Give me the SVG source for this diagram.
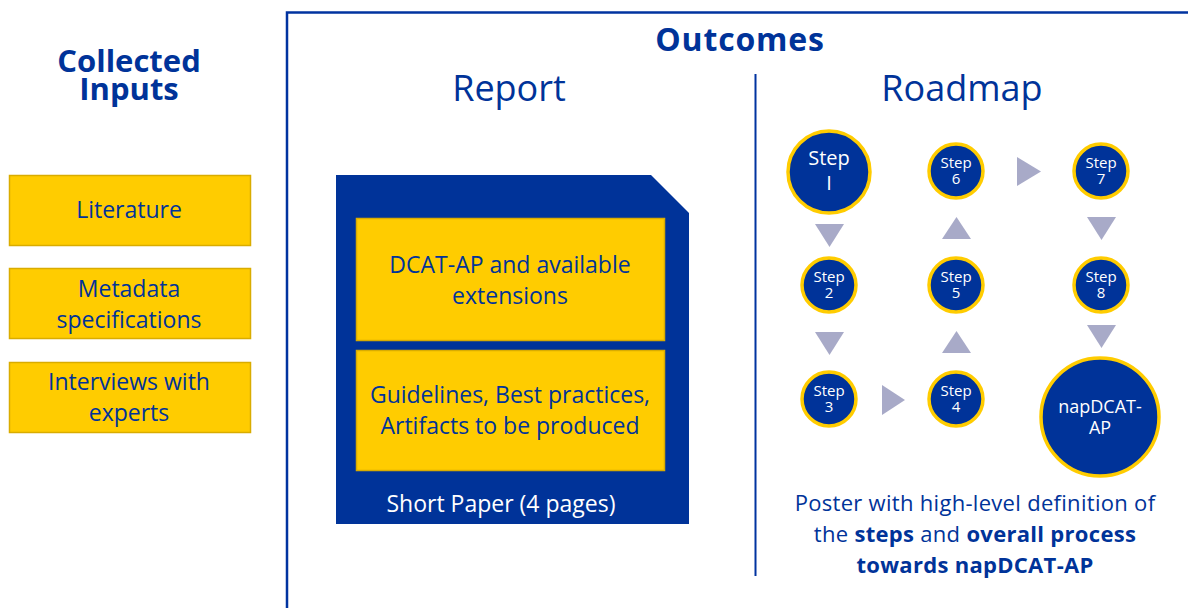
<svg xmlns="http://www.w3.org/2000/svg" width="1188" height="608" viewBox="0 0 1188 608">
  <style>
    text { font-family: "Open Sans", Lato, "Liberation Sans", sans-serif; fill: #003399; text-anchor: middle; }
    .title { font-weight: bold; font-size: 31px; }
    .outTitle { font-weight: bold; font-size: 32px; letter-spacing: 0.8px; }
    .head { font-size: 36px; }
    .input { fill: #ffcc00; stroke: #d9ac00; stroke-width: 1.5; }
    .inputText { font-size: 23px; }
    .panelText { font-size: 23px; }
    .white { fill: #ffffff; }
    .step { fill: #003399; stroke: #ffcc00; stroke-width: 3.5; }
    .stepText { fill: #ffffff; font-size: 15px; }
    .arrow { fill: #a8aac8; }
    .poster { font-size: 22px; letter-spacing: 0.3px; }
    .b { font-weight: bold; }
  </style>

  <!-- Left column: collected inputs -->
  <g id="inputs-title">
    <text class="title" x="129" y="72">Collected<tspan x="129" dy="28">Inputs</tspan></text>
  </g>
  <g id="input-literature">
    <rect class="input" x="9.5" y="175.5" width="241" height="70"/>
    <text class="inputText" x="129" y="218">Literature</text>
  </g>
  <g id="input-metadata">
    <rect class="input" x="9.5" y="268.5" width="241" height="70"/>
    <text class="inputText" x="129" y="297">Metadata<tspan x="129" dy="31">specifications</tspan></text>
  </g>
  <g id="input-interviews">
    <rect class="input" x="9.5" y="362.5" width="241" height="70"/>
    <text class="inputText" x="129" y="390">Interviews with<tspan x="129" dy="31">experts</tspan></text>
  </g>

  <!-- Outcomes frame -->
  <g id="outcomes">
    <path d="M287,610 V12.5 H1192" fill="none" stroke="#0033a0" stroke-width="2.5"/>
    <text class="outTitle" x="740" y="51">Outcomes</text>
    <line x1="755.5" y1="74" x2="755.5" y2="576" stroke="#0033a0" stroke-width="2"/>
  </g>

  <!-- Report: short paper with two content blocks -->
  <g id="report">
    <text class="head" x="509" y="101">Report</text>
    <path d="M336,175 H651 L689,213 V524 H336 Z" fill="#003399"/>
    <rect class="input" x="356.5" y="218.5" width="308" height="122"/>
    <text class="panelText" x="510" y="273">DCAT-AP and available<tspan x="510" dy="31">extensions</tspan></text>
    <rect class="input" x="356.5" y="350.5" width="308" height="120"/>
    <text class="panelText" x="510" y="403">Guidelines, Best practices,<tspan x="510" dy="31">Artifacts to be produced</tspan></text>
    <text class="white" x="501" y="512" style="font-size:23px">Short Paper (4 pages)</text>
  </g>

  <!-- Roadmap -->
  <text id="roadmap-title" class="head" x="962" y="101">Roadmap</text>

  <g id="connectors">
    <polygon class="arrow" points="815,224 844,224 829.5,247"/>
    <polygon class="arrow" points="815,332 844,332 829.5,355"/>
    <polygon class="arrow" points="882,385 905,400 882,415"/>
    <polygon class="arrow" points="942,353 971,353 956.5,331"/>
    <polygon class="arrow" points="942,239 971,239 956.5,217"/>
    <polygon class="arrow" points="1017,157 1041,171.5 1017,186"/>
    <polygon class="arrow" points="1087,217 1116,217 1101.5,240"/>
    <polygon class="arrow" points="1087,325 1116,325 1101.5,348"/>
  </g>

  <g id="step1">
    <circle class="step" cx="829" cy="172" r="41"/>
    <text class="stepText" x="829" y="165" style="font-size:20px">Step<tspan x="829" dy="25">I</tspan></text>
  </g>
  <g id="step2">
    <circle class="step" cx="829" cy="285" r="27"/>
    <text class="stepText" x="829" y="282">Step<tspan x="829" dy="16">2</tspan></text>
  </g>
  <g id="step3">
    <circle class="step" cx="829" cy="399" r="27"/>
    <text class="stepText" x="829" y="396">Step<tspan x="829" dy="16">3</tspan></text>
  </g>
  <g id="step4">
    <circle class="step" cx="956" cy="399" r="27"/>
    <text class="stepText" x="956" y="396">Step<tspan x="956" dy="16">4</tspan></text>
  </g>
  <g id="step5">
    <circle class="step" cx="956" cy="285" r="27"/>
    <text class="stepText" x="956" y="282">Step<tspan x="956" dy="16">5</tspan></text>
  </g>
  <g id="step6">
    <circle class="step" cx="956" cy="171" r="27"/>
    <text class="stepText" x="956" y="168">Step<tspan x="956" dy="16">6</tspan></text>
  </g>
  <g id="step7">
    <circle class="step" cx="1101" cy="171" r="27"/>
    <text class="stepText" x="1101" y="168">Step<tspan x="1101" dy="16">7</tspan></text>
  </g>
  <g id="step8">
    <circle class="step" cx="1101" cy="285" r="27"/>
    <text class="stepText" x="1101" y="282">Step<tspan x="1101" dy="16">8</tspan></text>
  </g>
  <g id="napdcat-ap">
    <circle class="step" cx="1100" cy="417" r="59"/>
    <text class="stepText" x="1100" y="413" style="font-size:18px">napDCAT-<tspan x="1100" dy="21">AP</tspan></text>
  </g>

  <g id="poster-caption">
    <text class="poster" x="975" y="511">Poster with high-level definition of</text>
    <text class="poster" x="975" y="542">the <tspan class="b">steps</tspan> and <tspan class="b">overall process</tspan></text>
    <text class="poster b" x="975" y="573">towards napDCAT-AP</text>
  </g>
</svg>
